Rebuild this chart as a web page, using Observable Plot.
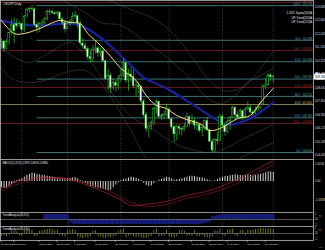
<!DOCTYPE html>
<html><head><meta charset="utf-8">
<script src="https://cdn.jsdelivr.net/npm/d3@7"></script>
<script src="https://cdn.jsdelivr.net/npm/@observablehq/plot@0.6"></script>
<style>
html,body{margin:0;padding:0;background:#000;}
#chart{position:relative;width:325px;height:250px;background:#000;overflow:hidden;}
#chart svg{position:absolute;left:0;overflow:hidden;}
</style></head><body><div id="chart"></div>
<script>
// ---------- data ----------
const open=[111.22,111.52,111.07,111.48,112.04,112.53,112.60,112.48,112.61,112.24,
113.08,113.48,113.54,113.52,112.55,112.38,112.63,112.65,112.90,113.38,
113.35,113.28,113.22,113.32,112.90,112.68,112.28,112.60,112.75,113.05,
113.10,112.63,111.40,111.25,111.05,110.55,110.45,111.00,111.10,110.80,
110.90,110.30,109.20,109.40,108.65,108.95,108.78,109.18,109.40,110.18,
109.10,109.48,109.33,108.75,108.78,108.70,107.80,106.95,106.10,106.25,
106.45,107.35,107.78,106.85,106.90,106.95,107.30,106.70,106.20,105.75,
106.22,106.10,106.05,106.20,106.82,106.40,106.60,106.30,106.35,105.98,
106.15,106.60,106.00,105.30,104.75,105.40,105.35,106.85,106.30,105.90,
106.55,106.80,107.40,106.95,106.80,107.20,106.80,107.30,107.38,107.12,
107.05,107.25,107.38,107.65,108.70,108.80,109.42,109.30];
const high=[111.70,111.60,111.64,112.10,112.88,112.95,112.90,112.80,112.65,113.15,
113.60,113.65,113.75,113.60,112.75,112.70,112.85,113.00,113.48,113.50,
113.45,113.40,113.38,113.35,112.98,112.80,112.70,112.90,113.30,113.40,
113.15,112.80,111.70,111.40,111.20,110.95,111.30,111.50,111.20,111.15,
111.10,110.35,109.80,109.55,109.20,109.10,109.40,109.80,110.48,110.30,
109.80,109.90,109.75,109.05,108.95,108.80,107.95,107.10,106.35,106.60,
107.45,107.90,107.85,107.05,107.20,107.65,107.40,106.80,106.30,106.35,
106.35,106.20,106.45,107.05,106.90,106.95,106.75,106.45,106.40,106.35,
106.65,106.80,106.10,105.45,105.50,105.90,107.00,107.00,106.50,106.65,
106.85,107.50,107.50,107.15,107.35,107.25,107.40,107.80,107.60,107.25,
107.45,107.50,107.80,108.85,109.20,109.50,109.55,109.45];
const low=[111.06,110.84,111.00,111.30,111.90,111.40,112.30,112.40,112.00,112.10,
113.00,113.30,113.40,112.45,112.03,112.10,112.45,112.60,112.80,113.15,
113.20,113.15,113.10,112.80,112.50,112.05,112.25,112.45,112.70,112.95,
112.35,111.25,111.05,110.90,110.35,110.20,110.20,110.75,110.55,110.55,
110.20,109.10,108.50,108.30,108.50,108.40,108.50,109.00,109.30,108.90,
108.45,109.00,108.60,108.05,108.30,107.60,106.80,105.90,105.55,106.00,
106.30,107.00,106.70,106.60,106.65,106.85,106.65,106.05,105.25,105.35,
105.70,105.65,105.95,106.15,106.20,106.35,106.05,105.95,105.85,105.60,
106.00,105.90,105.25,104.63,104.65,105.10,105.30,106.20,105.65,105.80,
106.00,106.75,106.65,106.70,106.65,106.60,106.75,107.20,107.00,106.90,
107.00,107.15,107.30,107.60,108.50,108.75,109.05,108.95];
const close=[111.52,111.07,111.48,112.04,112.53,112.17,112.48,112.61,112.24,113.08,
113.48,113.54,113.52,112.55,112.38,112.63,112.65,112.90,113.38,113.35,
113.28,113.22,113.32,112.90,112.68,112.28,112.60,112.75,113.05,113.10,
112.63,111.40,111.25,111.05,110.55,110.45,111.00,111.10,110.80,110.90,
110.30,109.20,109.40,108.65,108.95,108.78,109.18,109.40,110.18,109.10,
109.48,109.33,108.75,108.78,108.70,107.80,106.95,106.10,106.25,106.45,
107.35,107.78,106.85,106.90,106.95,107.30,106.70,106.20,105.75,106.22,
106.10,106.05,106.20,106.82,106.40,106.60,106.30,106.35,105.98,106.15,
106.60,106.00,105.30,104.75,105.40,105.35,106.85,106.30,105.90,106.55,
106.80,107.40,106.95,106.80,107.20,106.80,107.30,107.38,107.12,107.05,
107.25,107.38,107.65,108.70,108.80,109.42,109.30,109.33];

// yellow moving average
const maIdx=[0,5,9,15,23,27,31,34,39,43,47,53,57,61,65,69,74,78,82,86,93,98,102,107];
const maPrice=[112.83,112.02,112.02,112.33,112.83,112.70,112.64,112.02,111.28,110.59,109.85,109.10,108.17,107.55,107.36,106.93,106.62,106.43,106.00,106.12,106.74,106.93,107.74,108.61];
// blue band
const blueIdx=[0,8,15,26,31,39,44,51,56,65,74,82,88,94,100,107];
const bluePrice=[112.83,112.58,112.52,112.64,112.52,111.77,111.09,110.03,109.29,108.61,107.74,106.93,106.37,106.49,106.93,107.74];
// dotted bands
const u2Idx=[30,38,42,47,52,59,65,70,74,81,87,94,98,103,107];
const u2Price=[114.50,114.20,114.07,113.76,113.45,113.01,112.39,111.59,110.78,109.29,108.48,108.61,109.10,110.03,110.97];
const u1Idx=[20,33,39,47,56,63,68,74,80,86,92,97,102,107];
const u1Price=[114.40,113.32,112.70,112.52,111.59,110.78,110.16,109.23,108.17,107.67,108.17,108.98,109.41,109.85];
const l1Idx=[0,6,11,19,27,33,39,45,52,59,65,70,76,82,88,94,102,107];
const l1Price=[111.09,110.47,110.22,110.84,111.46,110.65,109.41,107.98,106.74,106.12,105.50,105.07,104.76,104.63,104.88,105.38,106.00,106.37];
const l2Idx=[0,4,10,17,25,33,39,45,51,57,63,88,96,102,107];
const l2Price=[109.85,109.23,108.98,109.10,109.60,109.72,108.98,107.55,106.00,104.26,103.50,103.82,104.44,104.88,105.25];

// horizontal levels
const fibStart=14;
const tealLevels=[113.750,111.598,110.266,109.190,108.114,106.782,104.630];
const tealLabels=["100.0 - 113.750","76.4 - 111.598","61.8 - 110.266","50.0 - 109.190","38.2 - 108.114","23.6 - 106.782","0.0 - 104.630"];
const redLevels=[113.950,110.970,108.670,106.430];
const redLabels=["0.0 - 113.950","38.2 - 110.970","61.8 - 108.670","100.0 - 106.430"];
const khakiLevels=[107.610];
const khakiLabels=["61.8 - 107.610"];

const priceTicks=[113.685,112.845,112.005,111.165,110.325,109.485,108.645,107.805,106.965,106.125,105.285,104.445];
const gridIdx=[8,26,47,66,87,107];
const tickIdx=[0,5,15,22,29,37,45,52,59,66,75,82,89,97,104];
const tickLabels=["24 Nov 2017","1 Dec 2017","15 Dec 2017","27 Dec 2017","8 Jan 2018","18 Jan 2018","30 Jan 2018","8 Feb 2018","19 Feb 2018","28 Feb 2018","13 Mar 2018","22 Mar 2018","3 Apr 2018","13 Apr 2018","24 Apr 2018"];

// MACD
const macdHist=[-0.35,-0.4,-0.38,-0.3,-0.2,-0.1,0.05,0.1,0.15,0.25,
0.35,0.42,0.48,0.45,0.40,0.38,0.35,0.33,0.30,0.28,0.25,0.22,0.2,0.18,
0.18,0.16,0.15,0.17,0.2,0.22,0.15,0.05,-0.05,-0.12,-0.2,-0.28,
-0.32,-0.35,-0.38,-0.42,-0.45,-0.5,-0.52,-0.5,-0.35,-0.2,-0.08,0.05,0.12,0.15,
0.2,0.25,0.22,0.18,0.12,0.05,-0.1,-0.22,-0.28,-0.25,-0.12,-0.02,0.08,0.12,
0.2,0.25,0.22,0.15,0.08,0.1,0.12,0.15,0.2,0.25,0.3,0.3,0.28,0.25,0.22,0.2,
0.15,0.1,0.05,-0.02,0.05,0.12,0.2,0.25,0.28,0.3,0.33,0.35,0.38,0.36,0.34,0.33,0.35,0.37,
0.36,0.35,0.36,0.38,0.4,0.45,0.5,0.55,0.55,0.52];
const sigIdx=[0,5,13,19,26,34,39,46,51,57,65,73,82,90,98,107];
const sig1=[-0.40,-0.06,0.23,0.23,0.17,-0.23,-0.51,-0.96,-1.36,-1.30,-1.13,-0.79,-0.51,-0.06,0.51,1.19];
const sig2=[-0.51,-0.23,0.11,0.17,0.11,-0.12,-0.34,-0.79,-1.19,-1.42,-1.30,-0.96,-0.68,-0.29,0.28,0.96];
const macdTicks=[1.0058,0,-1.0588];
const macdTickLabels=["1.0058","0.00","-1.0588"];

// TrendAnalysis panels
const ta1=[0,0,0,0,0,0,0,0,0,0,0,0,0,0,0,0,0,
0.9,0.9,0.9,0.9,0.9,0.9,0.9,0.9,0.9,0.9,
-0.6,-0.8,-0.9,-0.9,-0.9,-0.9,-0.9,-0.9,-0.9,-0.9,
-0.9,-0.9,-0.9,-0.9,-0.9,-0.9,-0.9,-0.9,-0.9,-0.9,
-0.9,-0.9,-0.9,-0.9,-0.9,-0.9,-0.9,-0.9,-0.9,-0.9,
-0.9,-0.9,-0.9,-0.9,-0.9,-0.9,-0.9,-0.9,-0.9,-0.9,
-0.9,-0.9,-0.9,-0.9,-0.9,-0.9,-0.9,-0.9,-0.9,-0.9,
-0.9,-0.9,-0.8,-0.7,-0.6,-0.5,
0.5,0.6,0.7,0.8,0.9,0.9,0.9,0.9,0.9,0.9,0.9,0.9,0.9,0.9,0.9,0.9,0.9,0.9,0.9,0.9,0.9,0.9,0.9,0.9,0.9];
const ta2=[-0.5,-0.4,-0.6,-0.3,0.5,0.4,0.3,-0.4,-0.5,0.6,0.7,0.8,0.6,-0.5,-0.6,0.4,0.5,
0.6,0.7,0.8,0.7,0.5,0.6,-0.4,-0.5,-0.6,0.5,0.6,0.7,0.5,
-0.6,-0.8,-0.9,-0.7,-0.8,-0.6,0.4,0.5,-0.5,-0.6,-0.8,-0.9,-0.7,-0.8,-0.6,-0.5,0.4,0.6,0.8,-0.7,
-0.5,-0.4,-0.6,-0.7,-0.6,-0.8,-0.9,-0.9,-0.7,-0.5,0.5,0.8,-0.6,-0.5,-0.5,0.6,-0.6,-0.7,-0.8,-0.6,
0.5,0.6,0.4,-0.5,-0.4,-0.5,0.5,-0.6,-0.5,-0.4,-0.7,-0.8,-0.9,
-0.6,0.5,0.4,0.8,-0.4,-0.5,0.6,0.7,0.8,-0.4,-0.5,0.5,0.6,-0.4,0.6,0.5,0.6,0.7,0.8,0.9,0.9,0.8,0.9,0.8,0.7];
const taTicks=[1,0,-1];
const taTickLabels=["1","20","-1"];

const legendLines=["1.5611 Sigma(200)A","UP-Trend(200)A","UP-Trend(120)A"];
const title="USDJPY,Daily";
const macdTitle="MACD(12,26,9) 0.3372 0.8670 0.9860";
const taTitle="TrendAnalysis(20,5%)";

// ---------- build ----------
const FONT="Liberation Sans, Arial, sans-serif";
const xDomain=[-0.39,122.83];
const bars=close.map((c,i)=>({i,o:open[i],h:high[i],l:low[i],c}));
const pts=(I,P)=>I.map((i,k)=>({i,p:P[k]}));
const dotted=[["u2",u2Idx,u2Price],["u1",u1Idx,u1Price],["l1",l1Idx,l1Price],["l2",l2Idx,l2Price]]
  .flatMap(([s,I,P])=>I.map((i,k)=>({s,i,p:P[k]})));
const lv=(L,T)=>L.map((p,k)=>({p,t:T[k]}));
const GREEN="#2fc42f";
const root=document.getElementById("chart");

function panel(top,height,yDomain,marks,extra={}){
  const svg=Plot.plot({
    width:325,height,marginLeft:0,marginRight:12,marginTop:0,marginBottom:extra.marginBottom||0,
    x:{domain:xDomain,axis:null},
    y:{domain:yDomain,axis:null},
    style:{background:"transparent",color:"#d8d8d8",fontFamily:FONT,overflow:"hidden"},
    marks
  });
  svg.style.top=top+"px";
  root.appendChild(svg);
}
const grid=()=>Plot.ruleX(gridIdx,{x:d=>d,stroke:"#6e6e6e",strokeWidth:0.6,strokeDasharray:"1,1.6"});
const frame=()=>Plot.frame({stroke:"#b8b8b8",strokeWidth:0.8});

// main price panel
panel(0,159,[104.196,114.07],[
  grid(),
  Plot.ruleY(lv(redLevels,redLabels),{y:"p",stroke:"#7a2226",strokeWidth:0.8}),
  Plot.ruleY(lv(khakiLevels,khakiLabels),{y:"p",stroke:"#a89a68",strokeWidth:0.8}),
  Plot.ruleY(lv(tealLevels,tealLabels),{y:"p",x1:fibStart,x2:xDomain[1],stroke:"#4b8f93",strokeWidth:0.8}),
  Plot.line(dotted,{x:"i",y:"p",z:"s",stroke:"#707070",strokeWidth:0.5,strokeDasharray:"0.7,1.4",curve:"catmull-rom",clip:true}),
  Plot.line(pts(blueIdx,bluePrice),{x:"i",y:"p",stroke:"#131a86",strokeWidth:2.4,curve:"catmull-rom",clip:true}),
  Plot.line(pts(blueIdx,bluePrice),{x:"i",y:"p",stroke:"#2a36bc",strokeWidth:0.6,curve:"catmull-rom",clip:true}),
  Plot.ruleX(bars,{x:"i",y1:"l",y2:"h",stroke:GREEN,strokeWidth:0.7}),
  Plot.rect(bars,{filter:d=>d.c>=d.o,x1:d=>d.i-0.32,x2:d=>d.i+0.32,y1:"o",y2:"c",fill:"#000",stroke:GREEN,strokeWidth:0.5}),
  Plot.rect(bars,{filter:d=>d.c<d.o,x1:d=>d.i-0.32,x2:d=>d.i+0.32,y1:"o",y2:"c",fill:"#f2f2f2",stroke:GREEN,strokeWidth:0.4}),
  Plot.line(pts(maIdx,maPrice),{x:"i",y:"p",stroke:"#f3e67c",strokeWidth:1,curve:"catmull-rom"}),
  Plot.text(lv(tealLevels,tealLabels),{y:"p",text:"t",frameAnchor:"right",dx:-1.5,dy:-1.6,textAnchor:"end",fontSize:2.7,fill:"#5fb0b4"}),
  Plot.text(lv(redLevels,redLabels),{y:"p",text:"t",frameAnchor:"right",dx:-1.5,dy:-1.6,textAnchor:"end",fontSize:2.7,fill:"#b23a3a"}),
  Plot.text(lv(khakiLevels,khakiLabels),{y:"p",text:"t",frameAnchor:"right",dx:-1.5,dy:-1.6,textAnchor:"end",fontSize:2.7,fill:"#d8c878"}),
  Plot.text([legendLines.join("\n")],{text:d=>d,frameAnchor:"top-right",dx:-1.5,dy:10,lineAnchor:"top",textAnchor:"end",lineHeight:1.7,fontSize:2.8,fill:"#e8e8e8"}),
  Plot.text([title],{text:d=>d,frameAnchor:"top-left",dx:3,dy:2,lineAnchor:"top",fontSize:2.8,fill:"#e8e8e8"}),
  Plot.axisY({anchor:"right",ticks:priceTicks,tickSize:0,tickPadding:1.2,fontSize:3.1,tickFormat:d=>d.toFixed(3)}),
  Plot.text([close[close.length-1]],{y:d=>d,text:d=>d.toFixed(3),frameAnchor:"right",dx:1.4,textAnchor:"start",fontSize:3.1,fill:"#000",stroke:"#fff",strokeWidth:3.2,strokeLinejoin:"miter"}),
  frame()
]);

// MACD panel
panel(159,53,[-1.761,1.25],[
  grid(),
  Plot.ruleX(macdHist.map((v,i)=>({i,v})),{x:"i",y1:0,y2:"v",stroke:"#e6e6e6",strokeWidth:0.9}),
  Plot.line(pts(sigIdx,sig2),{x:"i",y:"p",stroke:"#7e1a1a",strokeWidth:0.7,curve:"catmull-rom"}),
  Plot.line(pts(sigIdx,sig1),{x:"i",y:"p",stroke:"#c02a28",strokeWidth:0.7,strokeDasharray:"1,0.9",curve:"catmull-rom"}),
  Plot.text([macdTitle],{text:d=>d,frameAnchor:"top-left",dx:2,dy:3,lineAnchor:"top",fontSize:2.7,fill:"#e8e8e8"}),
  Plot.axisY({anchor:"right",ticks:macdTicks,tickSize:0,tickPadding:1.2,fontSize:3,tickFormat:d=>macdTickLabels[macdTicks.indexOf(d)]}),
  frame()
]);

// TrendAnalysis 1
panel(212,14,[-1.25,1.25],[
  grid(),
  Plot.ruleX(ta1.map((v,i)=>({i,v})),{x:"i",y1:0,y2:"v",stroke:"#151d78",strokeWidth:2.6}),
  Plot.ruleY([0],{stroke:"#8a8a8a",strokeWidth:0.6}),
  Plot.text([taTitle],{text:d=>d,frameAnchor:"top-left",dx:2,dy:2,lineAnchor:"top",fontSize:2.7,fill:"#e8e8e8"}),
  Plot.axisY({anchor:"right",ticks:taTicks,tickSize:0,tickPadding:1.2,fontSize:2.6,tickFormat:d=>taTickLabels[taTicks.indexOf(d)]}),
  frame()
]);

// TrendAnalysis 2 + date axis
panel(226,24,[-1.25,1.25],[
  grid(),
  Plot.ruleX(ta2.map((v,i)=>({i,v})),{x:"i",y1:0,y2:"v",stroke:"#8e8c36",strokeWidth:0.8}),
  Plot.ruleY([0],{stroke:"#8a8a8a",strokeWidth:0.6}),
  Plot.text([taTitle],{text:d=>d,frameAnchor:"top-left",dx:2,dy:2,lineAnchor:"top",fontSize:2.7,fill:"#e8e8e8"}),
  Plot.axisY({anchor:"right",ticks:taTicks,tickSize:0,tickPadding:1.2,fontSize:2.6,tickFormat:d=>taTickLabels[taTicks.indexOf(d)]}),
  Plot.axisX({anchor:"bottom",ticks:tickIdx,tickSize:1.8,tickPadding:0.9,fontSize:2.4,textAnchor:"start",dx:-0.6,stroke:"#9a9a9a",fill:"#e0e0e0",tickFormat:d=>tickLabels[tickIdx.indexOf(d)]}),
  frame()
],{marginBottom:10});
</script></body></html>
